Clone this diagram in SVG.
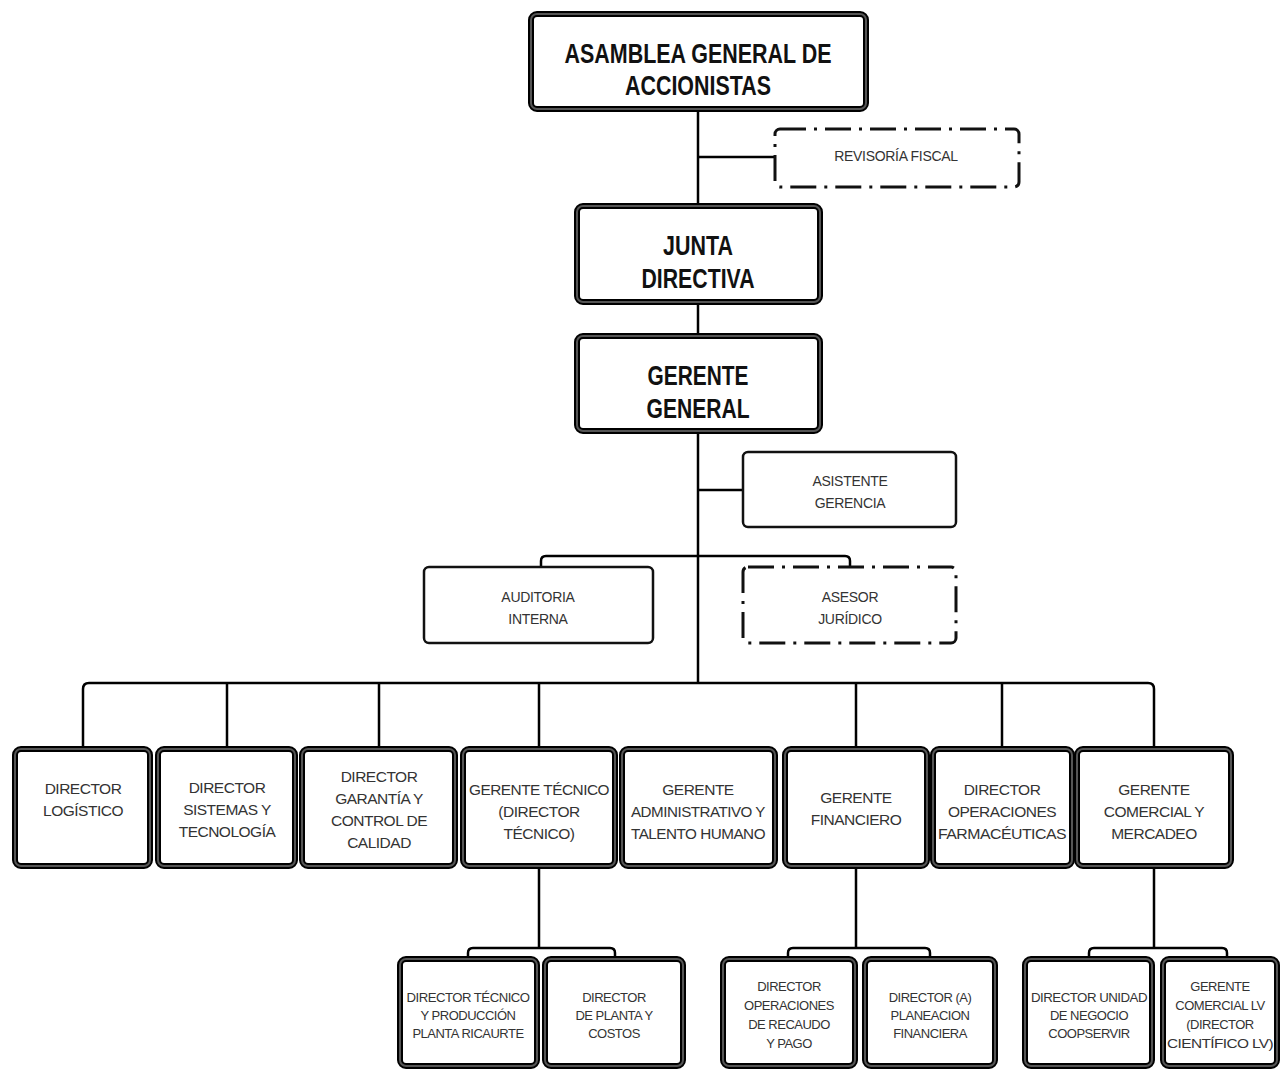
<svg xmlns="http://www.w3.org/2000/svg" width="1281" height="1070" viewBox="0 0 1281 1070">
<style>
.hv{fill:#fff;stroke:#000;stroke-width:6}
.hvi{fill:none;stroke:#555;stroke-width:2}
.thin{fill:#fff;stroke:#111;stroke-width:2.5}
.dd{fill:#fff;stroke:#111;stroke-width:3;stroke-dasharray:26 8 3 8}
.th{font-family:"Liberation Sans",Arial,sans-serif;font-weight:bold;font-size:27px;fill:#111;text-anchor:middle}
.tm{font-family:"Liberation Sans",Arial,sans-serif;font-size:14px;fill:#333;text-anchor:middle;letter-spacing:-0.3px}
.tr{font-family:"Liberation Sans",Arial,sans-serif;font-size:15.5px;fill:#333;text-anchor:middle;letter-spacing:-0.5px}
.tb{font-family:"Liberation Sans",Arial,sans-serif;font-size:13px;fill:#333;text-anchor:middle;letter-spacing:-0.5px}
.c{fill:none;stroke:#000;stroke-width:2.5;stroke-linejoin:round}
</style>
<g id="connectors" class="c">
<path d="M698 110 V205"/>
<path d="M698 157 H774"/>
<path d="M698 303 V335"/>
<path d="M698 432 V683"/>
<path d="M698 490 H743"/>
<path d="M541 567 V561 Q541 556 546 556 H845 Q850 556 850 561 V567"/>
<path d="M83 748 V689 Q83 683 89 683 H1148 Q1154 683 1154 689 V748"/>
<path d="M227 683 V748 M379 683 V748 M539 683 V748 M856 683 V748 M1002 683 V748"/>
<path d="M539 867 V948 M468 958 V953 Q468 948 473 948 H610 Q615 948 615 953 V958"/>
<path d="M856 867 V948 M788 958 V953 Q788 948 793 948 H925 Q930 948 930 953 V958"/>
<path d="M1154 867 V948 M1089 958 V953 Q1089 948 1094 948 H1222 Q1227 948 1227 953 V958"/>
</g>
<g id="asamblea">
<rect class="hv" x="531" y="14" width="335" height="95" rx="6"/>
<rect class="hvi" x="531" y="14" width="335" height="95" rx="6"/>
<text class="th" x="698" y="63" textLength="267" lengthAdjust="spacingAndGlyphs">ASAMBLEA GENERAL DE</text>
<text class="th" x="698" y="95" textLength="146" lengthAdjust="spacingAndGlyphs">ACCIONISTAS</text>
</g>
<g id="revisoria">
<rect class="dd" x="775" y="129" width="244" height="58" rx="5"/>
<text class="tm" x="896" y="161">REVISORÍA FISCAL</text>
</g>
<g id="junta">
<rect class="hv" x="577" y="206" width="243" height="96" rx="6"/>
<rect class="hvi" x="577" y="206" width="243" height="96" rx="6"/>
<text class="th" x="698" y="255" textLength="70" lengthAdjust="spacingAndGlyphs">JUNTA</text>
<text class="th" x="698" y="288" textLength="113" lengthAdjust="spacingAndGlyphs">DIRECTIVA</text>
</g>
<g id="gerente-general">
<rect class="hv" x="577" y="336" width="243" height="95" rx="6"/>
<rect class="hvi" x="577" y="336" width="243" height="95" rx="6"/>
<text class="th" x="698" y="385" textLength="101" lengthAdjust="spacingAndGlyphs">GERENTE</text>
<text class="th" x="698" y="418" textLength="103" lengthAdjust="spacingAndGlyphs">GENERAL</text>
</g>
<g id="asistente">
<rect class="thin" x="743" y="452" width="213" height="75" rx="5"/>
<text class="tm" x="850" y="486">ASISTENTE</text>
<text class="tm" x="850" y="508">GERENCIA</text>
</g>
<g id="auditoria">
<rect class="thin" x="424" y="567" width="229" height="76" rx="5"/>
<text class="tm" x="538" y="602">AUDITORIA</text>
<text class="tm" x="538" y="624">INTERNA</text>
</g>
<g id="asesor">
<rect class="dd" x="743" y="567" width="213" height="76" rx="5"/>
<text class="tm" x="850" y="602">ASESOR</text>
<text class="tm" x="850" y="624">JURÍDICO</text>
</g>
<g id="dir-logistico">
<rect class="hv" x="15" y="749" width="135" height="117" rx="6"/>
<rect class="hvi" x="15" y="749" width="135" height="117" rx="6"/>
<text class="tr" x="83" y="794">DIRECTOR</text>
<text class="tr" x="83" y="816">LOGÍSTICO</text>
</g>
<g id="dir-sistemas">
<rect class="hv" x="158" y="749" width="137" height="117" rx="6"/>
<rect class="hvi" x="158" y="749" width="137" height="117" rx="6"/>
<text class="tr" x="227" y="793">DIRECTOR</text>
<text class="tr" x="227" y="815">SISTEMAS Y</text>
<text class="tr" x="227" y="837">TECNOLOGÍA</text>
</g>
<g id="dir-garantia">
<rect class="hv" x="302" y="749" width="153" height="117" rx="6"/>
<rect class="hvi" x="302" y="749" width="153" height="117" rx="6"/>
<text class="tr" x="379" y="782">DIRECTOR</text>
<text class="tr" x="379" y="804">GARANTÍA Y</text>
<text class="tr" x="379" y="826">CONTROL DE</text>
<text class="tr" x="379" y="848">CALIDAD</text>
</g>
<g id="gerente-tecnico">
<rect class="hv" x="463" y="749" width="152" height="117" rx="6"/>
<rect class="hvi" x="463" y="749" width="152" height="117" rx="6"/>
<text class="tr" x="539" y="795" textLength="140" lengthAdjust="spacingAndGlyphs">GERENTE TÉCNICO</text>
<text class="tr" x="539" y="817">(DIRECTOR</text>
<text class="tr" x="539" y="839">TÉCNICO)</text>
</g>
<g id="gerente-administrativo">
<rect class="hv" x="622" y="749" width="153" height="117" rx="6"/>
<rect class="hvi" x="622" y="749" width="153" height="117" rx="6"/>
<text class="tr" x="698" y="795">GERENTE</text>
<text class="tr" x="698" y="817" textLength="134" lengthAdjust="spacingAndGlyphs">ADMINISTRATIVO Y</text>
<text class="tr" x="698" y="839" textLength="134" lengthAdjust="spacingAndGlyphs">TALENTO HUMANO</text>
</g>
<g id="gerente-financiero">
<rect class="hv" x="785" y="749" width="142" height="117" rx="6"/>
<rect class="hvi" x="785" y="749" width="142" height="117" rx="6"/>
<text class="tr" x="856" y="803">GERENTE</text>
<text class="tr" x="856" y="825">FINANCIERO</text>
</g>
<g id="dir-operaciones">
<rect class="hv" x="933" y="749" width="139" height="117" rx="6"/>
<rect class="hvi" x="933" y="749" width="139" height="117" rx="6"/>
<text class="tr" x="1002" y="795">DIRECTOR</text>
<text class="tr" x="1002" y="817">OPERACIONES</text>
<text class="tr" x="1002" y="839" textLength="128" lengthAdjust="spacingAndGlyphs">FARMACÉUTICAS</text>
</g>
<g id="gerente-comercial">
<rect class="hv" x="1077" y="749" width="154" height="117" rx="6"/>
<rect class="hvi" x="1077" y="749" width="154" height="117" rx="6"/>
<text class="tr" x="1154" y="795">GERENTE</text>
<text class="tr" x="1154" y="817">COMERCIAL Y</text>
<text class="tr" x="1154" y="839">MERCADEO</text>
</g>
<g id="dir-tecnico-produccion">
<rect class="hv" x="400" y="959" width="137" height="107" rx="6"/>
<rect class="hvi" x="400" y="959" width="137" height="107" rx="6"/>
<text class="tb" x="468" y="1002" textLength="123" lengthAdjust="spacingAndGlyphs">DIRECTOR TÉCNICO</text>
<text class="tb" x="468" y="1020">Y PRODUCCIÓN</text>
<text class="tb" x="468" y="1038">PLANTA RICAURTE</text>
</g>
<g id="dir-planta">
<rect class="hv" x="545" y="959" width="138" height="107" rx="6"/>
<rect class="hvi" x="545" y="959" width="138" height="107" rx="6"/>
<text class="tb" x="614" y="1002">DIRECTOR</text>
<text class="tb" x="614" y="1020">DE PLANTA Y</text>
<text class="tb" x="614" y="1038">COSTOS</text>
</g>
<g id="dir-recaudo">
<rect class="hv" x="723" y="959" width="132" height="107" rx="6"/>
<rect class="hvi" x="723" y="959" width="132" height="107" rx="6"/>
<text class="tb" x="789" y="991">DIRECTOR</text>
<text class="tb" x="789" y="1010">OPERACIONES</text>
<text class="tb" x="789" y="1029">DE RECAUDO</text>
<text class="tb" x="789" y="1048">Y PAGO</text>
</g>
<g id="dir-planeacion">
<rect class="hv" x="865" y="959" width="130" height="107" rx="6"/>
<rect class="hvi" x="865" y="959" width="130" height="107" rx="6"/>
<text class="tb" x="930" y="1002">DIRECTOR (A)</text>
<text class="tb" x="930" y="1020">PLANEACION</text>
<text class="tb" x="930" y="1038">FINANCIERA</text>
</g>
<g id="dir-coopservir">
<rect class="hv" x="1025" y="959" width="127" height="107" rx="6"/>
<rect class="hvi" x="1025" y="959" width="127" height="107" rx="6"/>
<text class="tb" x="1089" y="1002" textLength="116" lengthAdjust="spacingAndGlyphs">DIRECTOR UNIDAD</text>
<text class="tb" x="1089" y="1020">DE NEGOCIO</text>
<text class="tb" x="1089" y="1038">COOPSERVIR</text>
</g>
<g id="gerente-comercial-lv">
<rect class="hv" x="1163" y="959" width="114" height="107" rx="6"/>
<rect class="hvi" x="1163" y="959" width="114" height="107" rx="6"/>
<text class="tb" x="1220" y="991">GERENTE</text>
<text class="tb" x="1220" y="1010">COMERCIAL LV</text>
<text class="tb" x="1220" y="1029">(DIRECTOR</text>
<text class="tb" x="1220" y="1048" textLength="106" lengthAdjust="spacingAndGlyphs">CIENTÍFICO LV)</text>
</g>
</svg>
